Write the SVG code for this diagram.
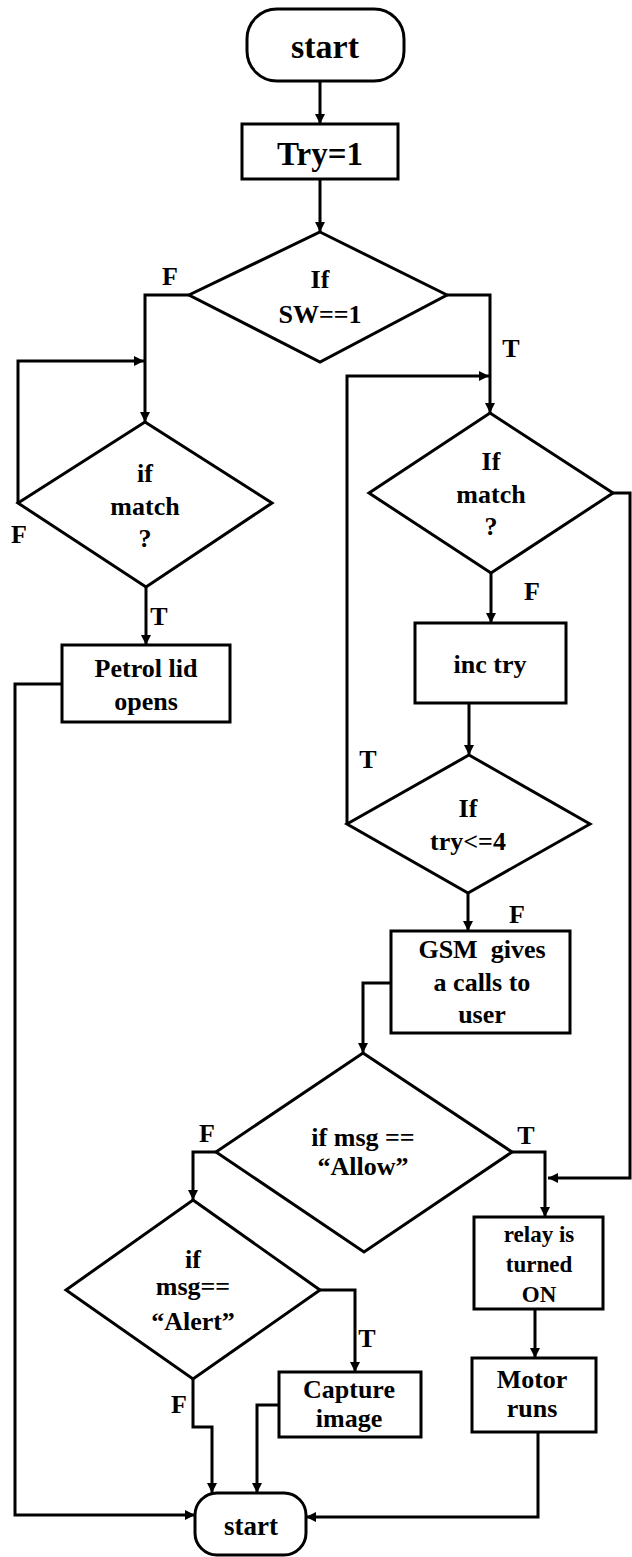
<svg xmlns="http://www.w3.org/2000/svg" width="632" height="1557" viewBox="0 0 632 1557">
<style>
.s{fill:#fff;stroke:#000;stroke-width:3}
.t{font-family:"Liberation Serif","Times New Roman",serif;font-weight:bold;fill:#000;text-anchor:middle}
.c{fill:none;stroke:#000;stroke-width:3;marker-end:url(#ah)}
.l{font-family:"Liberation Serif","Times New Roman",serif;font-weight:bold;font-size:26px;fill:#000;text-anchor:middle}
</style>
<defs>
<marker id="ah" viewBox="0 0 10 10" refX="10" refY="5" markerWidth="11" markerHeight="10" markerUnits="userSpaceOnUse" orient="auto">
<path d="M0,0 L10,5 L0,10 z" fill="#000"/>
</marker>
</defs>
<rect width="632" height="1557" fill="#fff"/>
<g id="connectors">
<path class="c" d="M320,81 V124"/>
<path class="c" d="M320,179 V232"/>
<path class="c" d="M189,295 H145 V422"/>
<path class="c" d="M18,503 V361 H144"/>
<path class="c" d="M447,295 H490 V413"/>
<path class="c" d="M347,824 V376 H489"/>
<path class="c" d="M146,587 V645"/>
<path class="c" d="M613,493 H630 V1178 H548"/>
<path class="c" d="M491,573 V623"/>
<path class="c" d="M469,703 V755"/>
<path class="c" d="M468,893 V931"/>
<path class="c" d="M391,983 H363 V1053"/>
<path class="c" d="M216,1152 H193 V1200"/>
<path class="c" d="M512,1152 H545 V1217"/>
<path class="c" d="M320,1290 H355 V1372"/>
<path class="c" d="M193,1379 V1427 H212 V1493"/>
<path class="c" d="M279,1405 H257 V1493"/>
<path class="c" d="M535,1309 V1358"/>
<path class="c" d="M538,1432 V1517 H306"/>
<path class="c" d="M62,684 H15 V1515 H195"/>
</g>
<g id="labels">
<text class="l" x="170" y="285">F</text>
<text class="l" x="511" y="357">T</text>
<text class="l" x="19" y="543">F</text>
<text class="l" x="159" y="625">T</text>
<text class="l" x="532" y="600">F</text>
<text class="l" x="368" y="768">T</text>
<text class="l" x="517" y="923">F</text>
<text class="l" x="207" y="1142">F</text>
<text class="l" x="526" y="1144">T</text>
<text class="l" x="367" y="1347">T</text>
<text class="l" x="179" y="1413">F</text>
</g>
<g id="start">
<rect class="s" x="247" y="9" width="157" height="72" rx="30"/>
<text class="t" x="325" y="58" font-size="34">start</text>
</g>
<g id="try1">
<rect class="s" x="242" y="124" width="156" height="55"/>
<text class="t" x="320" y="165" font-size="33">Try=1</text>
</g>
<g id="sw">
<polygon class="s" points="320,232 447,295 320,362 189,295"/>
<text class="t" x="320" y="288" font-size="26">If</text>
<text class="t" x="320" y="323" font-size="26">SW==1</text>
</g>
<g id="match1">
<polygon class="s" points="145,422 272,503 146,587 18,503"/>
<text class="t" x="145" y="482" font-size="26">if</text>
<text class="t" x="145" y="515" font-size="26">match</text>
<text class="t" x="145" y="547" font-size="26">?</text>
</g>
<g id="petrol">
<rect class="s" x="62" y="645" width="168" height="77"/>
<text class="t" x="146" y="677" font-size="26">Petrol lid</text>
<text class="t" x="146" y="710" font-size="26">opens</text>
</g>
<g id="match2">
<polygon class="s" points="490,413 613,493 491,573 369,493"/>
<text class="t" x="491" y="470" font-size="26">If</text>
<text class="t" x="491" y="503" font-size="26">match</text>
<text class="t" x="491" y="535" font-size="26">?</text>
</g>
<g id="inctry">
<rect class="s" x="415" y="623" width="151" height="80"/>
<text class="t" x="490" y="673" font-size="26">inc try</text>
</g>
<g id="trycheck">
<polygon class="s" points="469,755 590,824 468,893 347,824"/>
<text class="t" x="468" y="817" font-size="26">If</text>
<text class="t" x="468" y="850" font-size="26">try&lt;=4</text>
</g>
<g id="gsm">
<rect class="s" x="391" y="931" width="179" height="102"/>
<text class="t" x="482" y="958" font-size="26" xml:space="preserve">GSM  gives</text>
<text class="t" x="482" y="991" font-size="26">a calls to</text>
<text class="t" x="482" y="1023" font-size="26">user</text>
</g>
<g id="allow">
<polygon class="s" points="363,1053 512,1152 364,1252 216,1152"/>
<text class="t" x="363" y="1146" font-size="26">if msg ==</text>
<text class="t" x="363" y="1175" font-size="26">“Allow”</text>
</g>
<g id="relay">
<rect class="s" x="474" y="1217" width="129" height="92"/>
<text class="t" x="539" y="1242" font-size="23">relay is</text>
<text class="t" x="539" y="1272" font-size="23">turned</text>
<text class="t" x="539" y="1302" font-size="23">ON</text>
</g>
<g id="alert">
<polygon class="s" points="193,1200 320,1290 193,1379 66,1290"/>
<text class="t" x="193" y="1268" font-size="26">if</text>
<text class="t" x="193" y="1295" font-size="26">msg==</text>
<text class="t" x="193" y="1330" font-size="26">“Alert”</text>
</g>
<g id="capture">
<rect class="s" x="279" y="1372" width="142" height="65"/>
<text class="t" x="349" y="1398" font-size="26">Capture</text>
<text class="t" x="349" y="1427" font-size="26">image</text>
</g>
<g id="motor">
<rect class="s" x="472" y="1358" width="124" height="74"/>
<text class="t" x="532" y="1388" font-size="26">Motor</text>
<text class="t" x="532" y="1417" font-size="26">runs</text>
</g>
<g id="end">
<rect class="s" x="195" y="1493" width="111" height="62" rx="22"/>
<text class="t" x="251" y="1535" font-size="27">start</text>
</g>
</svg>
